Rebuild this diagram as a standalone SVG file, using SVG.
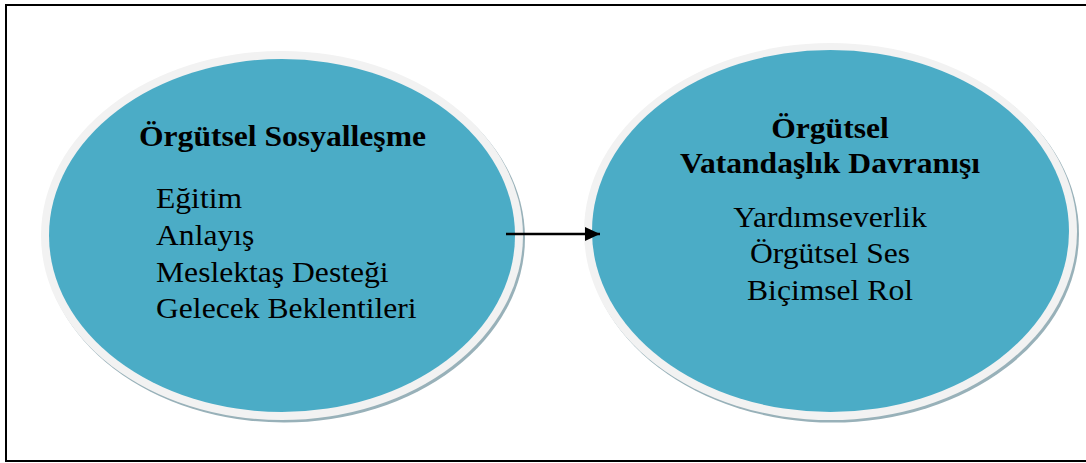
<svg xmlns="http://www.w3.org/2000/svg" width="1086" height="463" viewBox="0 0 1086 463">
  <style>
    .shadow { fill: #98b1b9; }
    .rim { fill: #f2f2f2; }
    .body { fill: #4bacc6; }
    .title { font-family: "Liberation Serif", "Times New Roman", serif; font-size: 29px; font-weight: bold; fill: #000; text-anchor: middle; }
    .item { font-family: "Liberation Serif", "Times New Roman", serif; font-size: 29px; fill: #000; }
    .center { text-anchor: middle; }
  </style>
  <defs>
    <marker id="arrow" markerWidth="16" markerHeight="14" refX="15" refY="7" orient="auto" markerUnits="userSpaceOnUse">
      <path d="M0,0 L15,7 L0,14 Z" fill="#000"/>
    </marker>
  </defs>
  <rect x="0" y="0" width="1086" height="463" fill="#fff"/>
  <rect id="frame" x="6" y="5" width="1092" height="456" fill="none" stroke="#000" stroke-width="2"/>

  <g id="node-sosyallesme">
    <ellipse class="shadow" cx="284" cy="238" rx="241" ry="184.5"/>
    <ellipse class="rim" cx="282" cy="235.5" rx="241" ry="184.5"/>
    <ellipse class="body" cx="282" cy="235.5" rx="233" ry="176.5"/>
    <g transform="translate(282.5,146) scale(1.09,1)">
      <text class="title" x="0" y="0">Örgütsel Sosyalleşme</text>
    </g>
    <g transform="translate(156,0) scale(1.09,1)">
      <text class="item" x="0" y="208">Eğitim</text>
      <text class="item" x="0" y="245">Anlayış</text>
      <text class="item" x="0" y="282">Meslektaş Desteği</text>
      <text class="item" x="0" y="318">Gelecek Beklentileri</text>
    </g>
  </g>

  <g id="node-vatandaslik">
    <ellipse class="shadow" cx="832.5" cy="234" rx="246.5" ry="188.5"/>
    <ellipse class="rim" cx="830.5" cy="231.5" rx="246.5" ry="188.5"/>
    <ellipse class="body" cx="830.5" cy="231" rx="238.5" ry="181"/>
    <g transform="translate(830,0) scale(1.09,1)">
      <text class="title" x="0" y="138">Örgütsel</text>
      <text class="title" x="0" y="173">Vatandaşlık Davranışı</text>
      <text class="item center" x="0" y="227">Yardımseverlik</text>
      <text class="item center" x="0" y="263">Örgütsel Ses</text>
      <text class="item center" x="0" y="300">Biçimsel Rol</text>
    </g>
  </g>

  <g id="connectors">
    <line x1="506" y1="234" x2="600" y2="234" stroke="#000" stroke-width="2.5" marker-end="url(#arrow)"/>
  </g>
</svg>
